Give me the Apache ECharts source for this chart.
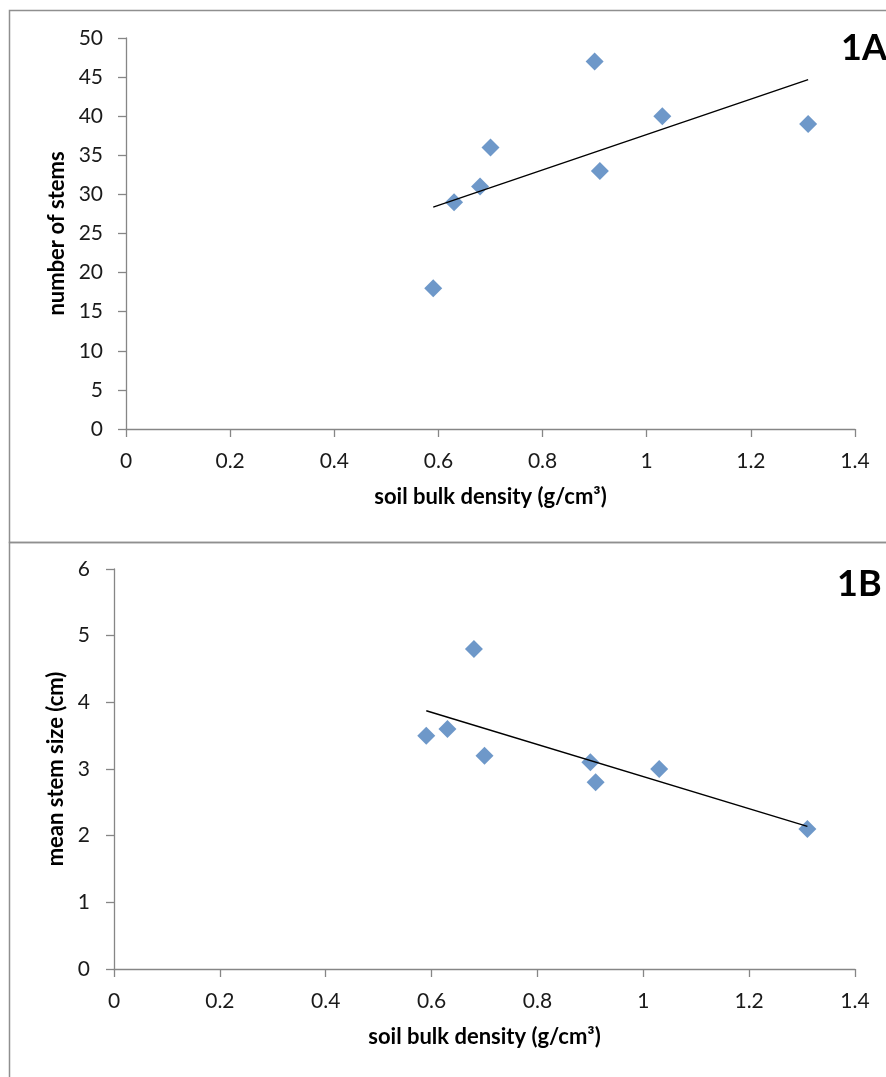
<!DOCTYPE html>
<html>
<head>
<meta charset="utf-8">
<script src="https://cdn.jsdelivr.net/npm/echarts@6/dist/echarts.min.js"></script>
<style>
html,body{margin:0;padding:0;background:#fff;}
#c{width:886px;height:1077px;}
</style>
</head>
<body>
<div id="c"></div>
<script>
// Panel 1A data
const densityA = [0.59, 0.63, 0.68, 0.70, 0.90, 0.91, 1.03, 1.31];
const stemsA   = [18, 29, 31, 36, 47, 33, 40, 39];
// Panel 1B data
const densityB = [0.59, 0.63, 0.68, 0.70, 0.90, 0.91, 1.03, 1.31];
const sizeB    = [3.5, 3.6, 4.8, 3.2, 3.1, 2.8, 3.0, 2.1];

const panelLabels = ['1A', '1B'];
const xTitle = 'soil bulk density (g/cm³)';
const yTitles = ['number of stems', 'mean stem size (cm)'];

function pairs(xs, ys) { return xs.map((x, i) => [x, ys[i]]); }
function trend(xs, ys) {
  const n = xs.length;
  const mx = xs.reduce((a, b) => a + b, 0) / n;
  const my = ys.reduce((a, b) => a + b, 0) / n;
  let sxy = 0, sxx = 0;
  for (let i = 0; i < n; i++) { sxy += (xs[i] - mx) * (ys[i] - my); sxx += (xs[i] - mx) ** 2; }
  const b = sxy / sxx, a = my - b * mx;
  const x0 = Math.min(...xs), x1 = Math.max(...xs);
  return [[x0, a + b * x0], [x1, a + b * x1]];
}

const FONT = 'Lato';
const axisGray = '#868686';
const labelColor = '#1a1a1a';

function xAxis(gridIndex) {
  return {
    type: 'value', gridIndex, min: 0, max: 1.4, interval: 0.2,
    name: xTitle, nameLocation: 'middle', nameGap: 57,
    nameTextStyle: { fontFamily: FONT, fontWeight: 'bold', fontSize: 22, color: '#000' },
    axisLine: { lineStyle: { color: axisGray, width: 1.3 } },
    axisTick: { show: true, length: 8, lineStyle: { color: axisGray, width: 1.3 } },
    axisLabel: { fontFamily: FONT, fontSize: 21, color: labelColor, margin: 22,
      formatter: v => String(Math.round(v * 10) / 10) },
    splitLine: { show: false }
  };
}
function yAxis(gridIndex, max, interval, title, gap, margin) {
  return {
    type: 'value', gridIndex, min: 0, max, interval,
    name: title, nameLocation: 'middle', nameGap: gap,
    nameTextStyle: { fontFamily: FONT, fontWeight: 'bold', fontSize: 22, color: '#000' },
    axisLine: { show: true, lineStyle: { color: axisGray, width: 1.3 } },
    axisTick: { show: true, length: 8, lineStyle: { color: axisGray, width: 1.3 } },
    axisLabel: { fontFamily: FONT, fontSize: 21, color: labelColor, margin },
    splitLine: { show: false }
  };
}

const marker = { type: 'scatter', symbol: 'diamond', symbolSize: 18,
  itemStyle: { color: '#4A7EBB' }, z: 3 };
const trendStyle = { type: 'line', showSymbol: false, symbol: 'none',
  lineStyle: { color: '#000', width: 1.4 }, z: 4, silent: true };

const chart = echarts.init(document.getElementById('c'), null, { renderer: 'canvas' });
chart.setOption({
  animation: false,
  backgroundColor: '#fff',
  grid: [
    { left: 126, top: 38, width: 729, height: 391 },
    { left: 114, top: 569, width: 741, height: 400 }
  ],
  xAxis: [xAxis(0), xAxis(1)],
  yAxis: [
    yAxis(0, 50, 5, yTitles[0], 55, 23),
    yAxis(1, 6, 1, yTitles[1], 45, 24)
  ],
  graphic: [
    { type: 'rect', shape: { x: 9.5, y: 10.5, width: 900, height: 532 },
      style: { fill: null, stroke: '#8f8f8f', lineWidth: 1.5 }, z: 0 },
    { type: 'rect', shape: { x: 9.5, y: 542.5, width: 900, height: 560 },
      style: { fill: null, stroke: '#8f8f8f', lineWidth: 1.5 }, z: 0 },
    { type: 'text', left: 841, top: 30,
      style: { text: panelLabels[0], font: 'bold 36px ' + FONT, fill: '#000' } },
    { type: 'text', left: 837, top: 566,
      style: { text: panelLabels[1], font: 'bold 36px ' + FONT, fill: '#000' } }
  ],
  series: [
    Object.assign({}, marker, { xAxisIndex: 0, yAxisIndex: 0, data: pairs(densityA, stemsA) }),
    Object.assign({}, trendStyle, { xAxisIndex: 0, yAxisIndex: 0, data: trend(densityA, stemsA) }),
    Object.assign({}, marker, { xAxisIndex: 1, yAxisIndex: 1, data: pairs(densityB, sizeB) }),
    Object.assign({}, trendStyle, { xAxisIndex: 1, yAxisIndex: 1, data: trend(densityB, sizeB) })
  ]
});
</script>
</body>
</html>
